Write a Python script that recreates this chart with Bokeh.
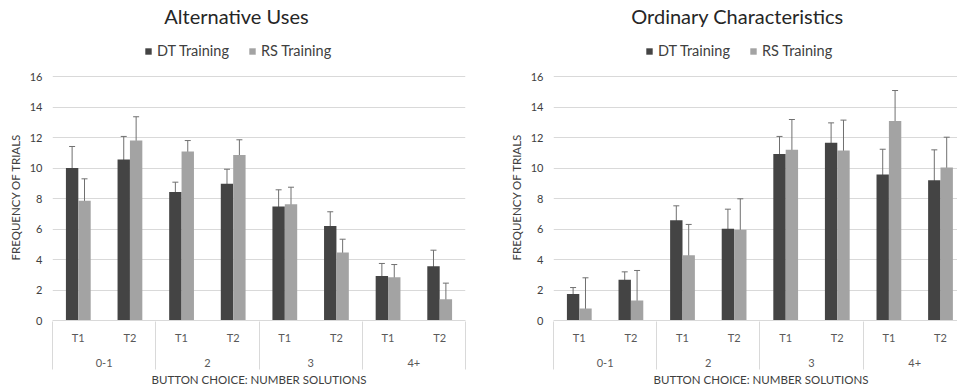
from bokeh.plotting import figure
from bokeh.models import (Range1d, FixedTicker, LinearAxis, ColumnDataSource, Whisker,
                          TeeHead, Legend, LegendItem, Title, Label)
from bokeh.layouts import row
from bokeh.embed import file_html
from bokeh.resources import INLINE

# ---------------- data ----------------
groups = ["0-1", "2", "3", "4+"]
trials = ["T1", "T2"]
series = ["DT Training", "RS Training"]
y_ticks = [0, 2, 4, 6, 8, 10, 12, 14, 16]
x_title = "BUTTON CHOICE: NUMBER SOLUTIONS"
y_title = "FREQUENCY OF TRIALS"

# Alternative Uses
au_title = "Alternative Uses"
au_dt = [10.0, 10.55, 8.42, 8.96, 7.48, 6.19, 2.91, 3.56]
au_dt_lo = [8.57, 8.96, 7.72, 8.02, 6.34, 5.31, 2.10, 2.58]
au_dt_hi = [11.41, 12.07, 9.07, 9.92, 8.57, 7.13, 3.74, 4.61]
au_rs = [7.85, 11.8, 11.08, 10.86, 7.63, 4.46, 2.84, 1.40]
au_rs_lo = [6.40, 10.27, 10.43, 9.95, 6.56, 3.60, 2.03, 0.44]
au_rs_hi = [9.29, 13.36, 11.80, 11.85, 8.74, 5.33, 3.67, 2.45]

# Ordinary Characteristics
oc_title = "Ordinary Characteristics"
oc_dt = [1.73, 2.67, 6.58, 6.01, 10.91, 11.65, 9.57, 9.20]
oc_dt_lo = [1.31, 2.12, 5.68, 4.77, 9.84, 10.32, 7.96, 7.26]
oc_dt_hi = [2.16, 3.19, 7.52, 7.30, 12.07, 12.96, 11.23, 11.19]
oc_rs = [0.79, 1.31, 4.28, 5.95, 11.19, 11.15, 13.09, 10.03]
oc_rs_lo = [0.37, 0.77, 3.39, 4.70, 10.05, 9.84, 11.43, 8.02]
oc_rs_hi = [2.80, 3.28, 6.30, 7.98, 13.18, 13.14, 15.08, 12.02]

# ---------------- style ----------------
FONT = "Lato"
DARK = "#444444"
LIGHT = "#a3a3a3"
ERR = "#707070"
GRID = "#d9d9d9"
TXT = "#404040"
TXT2 = "#595959"
FIG_H = 388
BOTTOM = 68
FRAME_H = FIG_H - BOTTOM          # frame spans the top of the figure
PX_PER_UNIT = 15.25
Y_END = FRAME_H / PX_PER_UNIT


def make_chart(title_text, dt, dt_lo, dt_hi, rs, rs_lo, rs_hi,
               fig_width, b_left, b_right, x_end, title_x, legend_x, xt_align, xt_off):
    n_t = len(trials)
    xs = []
    t_labels = {}
    for gi, g in enumerate(groups):
        for ti, t in enumerate(trials):
            x = gi * n_t + ti + 0.5
            xs.append(x)
            t_labels[x] = t
    g_centers = {gi * n_t + n_t / 2: g for gi, g in enumerate(groups)}
    bounds = [gi * n_t for gi in range(len(groups) + 1)]

    p = figure(width=fig_width, height=FIG_H, output_backend="svg", toolbar_location=None,
               x_range=Range1d(0, x_end), y_range=Range1d(0, Y_END),
               x_axis_type=None, min_border_left=b_left, min_border_right=b_right,
               min_border_top=0, min_border_bottom=BOTTOM)
    p.outline_line_color = None
    p.background_fill_color = "white"
    p.border_fill_color = "white"

    yt = FixedTicker(ticks=y_ticks, minor_ticks=[])
    p.yaxis.ticker = yt
    p.ygrid.ticker = yt
    p.ygrid.grid_line_color = GRID
    p.ygrid.grid_line_width = 1
    p.yaxis.axis_line_color = None
    p.yaxis.major_tick_line_color = None
    p.yaxis.minor_tick_line_color = None
    p.yaxis.major_tick_out = 0
    p.yaxis.major_tick_in = 0
    p.yaxis.major_label_standoff = 10
    p.yaxis.major_label_text_font = FONT
    p.yaxis.major_label_text_font_size = "11px"
    p.yaxis.major_label_text_color = TXT

    # y-axis title, placed along the 0..16 part of the axis
    p.add_layout(Title(text=y_title, align="left", offset=60, standoff=10,
                       text_font=FONT, text_font_size="11.5px", text_font_style="normal",
                       text_color=TXT), "left")

    src = ColumnDataSource(dict(
        x_dt=[x - 0.12 for x in xs], x_rs=[x + 0.12 for x in xs],
        dt=dt, dt_lo=dt_lo, dt_hi=dt_hi, rs=rs, rs_lo=rs_lo, rs_hi=rs_hi))
    r_dt = p.vbar(x="x_dt", top="dt", width=0.24, source=src, fill_color=DARK, line_color=None)
    r_rs = p.vbar(x="x_rs", top="rs", width=0.24, source=src, fill_color=LIGHT, line_color=None)
    for base, lo, hi in (("x_dt", "dt_lo", "dt_hi"), ("x_rs", "rs_lo", "rs_hi")):
        w = Whisker(source=src, base=base, lower=lo, upper=hi, line_color=ERR, line_width=1,
                    upper_head=TeeHead(size=6, line_color=ERR, line_width=1),
                    lower_head=TeeHead(size=6, line_color=ERR, line_width=1))
        p.add_layout(w)

    # inner category labels (T1/T2) + category axis line
    ax1 = LinearAxis(ticker=FixedTicker(ticks=xs, minor_ticks=[]),
                     major_label_overrides=t_labels)
    ax1.axis_line_color = GRID
    ax1.major_tick_line_color = None
    ax1.minor_tick_line_color = None
    ax1.major_tick_out = 0
    ax1.major_tick_in = 0
    ax1.major_label_standoff = 10
    ax1.major_label_text_font = FONT
    ax1.major_label_text_font_size = "11px"
    ax1.major_label_text_color = TXT2
    p.add_layout(ax1, "below")

    # outer category labels (groups)
    ax2 = LinearAxis(ticker=FixedTicker(ticks=list(g_centers.keys()), minor_ticks=[]),
                     major_label_overrides=g_centers)
    ax2.axis_line_color = None
    ax2.major_tick_line_color = None
    ax2.minor_tick_line_color = None
    ax2.major_tick_out = 0
    ax2.major_tick_in = 0
    ax2.major_label_standoff = 12
    ax2.major_label_text_font = FONT
    ax2.major_label_text_font_size = "11px"
    ax2.major_label_text_color = TXT2
    p.add_layout(ax2, "below")

    # group separators: inward ticks of a label-less axis under the group labels
    sep = LinearAxis(ticker=FixedTicker(ticks=bounds, minor_ticks=[]),
                     major_label_overrides={b: "" for b in bounds})
    sep.axis_line_color = None
    sep.major_tick_line_color = GRID
    sep.major_tick_in = 48
    sep.major_tick_out = 0
    sep.minor_tick_line_color = None
    sep.major_label_standoff = 0
    sep.major_label_text_font_size = "1px"
    sep.major_label_text_color = None
    p.add_layout(sep, "below")

    # x-axis title
    p.add_layout(Title(text=x_title, align=xt_align, offset=xt_off, standoff=2,
                       text_font=FONT, text_font_size="11.5px", text_font_style="normal",
                       text_color=TXT), "below")

    # chart title (inside the empty top part of the frame)
    p.add_layout(Label(x=title_x, y=FRAME_H - 15, x_units="screen", y_units="screen",
                       text=title_text, text_align="center", text_baseline="middle",
                       text_font=FONT, text_font_size="20px", text_color="#262626"))

    legend = Legend(items=[LegendItem(label=series[0], renderers=[r_dt]),
                           LegendItem(label=series[1], renderers=[r_rs])],
                    orientation="horizontal", location=(legend_x, FRAME_H - 59),
                    border_line_color=None, background_fill_alpha=0,
                    padding=0, margin=0, spacing=19, label_standoff=5,
                    glyph_width=8, glyph_height=8, label_height=14,
                    label_text_font=FONT, label_text_font_size="14.5px",
                    label_text_color=TXT)
    p.add_layout(legend, "center")
    return p


p1 = make_chart(au_title, au_dt, au_dt_lo, au_dt_hi, au_rs, au_rs_lo, au_rs_hi,
                fig_width=480, b_left=52, b_right=15, x_end=8.0,
                title_x=184, legend_x=92, xt_align="center", xt_off=0)
p2 = make_chart(oc_title, oc_dt, oc_dt_lo, oc_dt_hi, oc_rs, oc_rs_lo, oc_rs_hi,
                fig_width=477, b_left=73, b_right=0, x_end=404 / 51.6,
                title_x=184, legend_x=92, xt_align="left", xt_off=100)

layout = row(p1, p2)
open("out.html", "w").write(file_html(layout, INLINE))
